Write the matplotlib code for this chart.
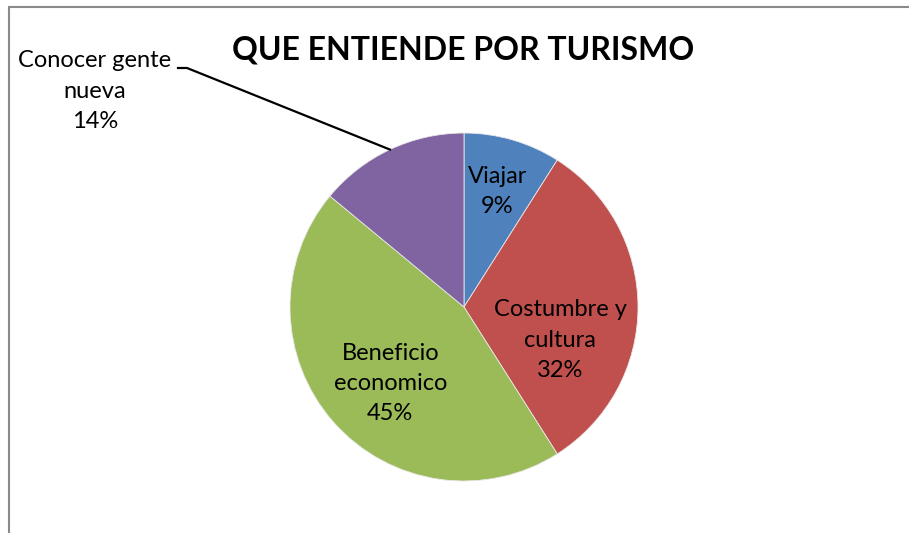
import matplotlib
matplotlib.use("Agg")
import matplotlib.pyplot as plt
import numpy as np
from matplotlib.patches import Rectangle

W, H = 909, 533

categorias = ["Viajar", "Costumbre y\ncultura", "Beneficio\neconomico", "Conocer gente\nnueva"]
porcentajes = [9, 32, 45, 14]
colores = ["#4F81BD", "#C0504D", "#9BBB59", "#8064A2"]
titulo = "QUE ENTIENDE POR TURISMO"

plt.rcParams['font.family'] = ['Lato', 'DejaVu Sans']

fig = plt.figure(figsize=(W / 100, H / 100), dpi=100)
ax = fig.add_axes([0, 0, 1, 1])

# marco del grafico
ax.add_patch(Rectangle((9, -20), W + 20, H - 7 + 20, fill=False,
                       edgecolor="#8a8a8a", lw=1.5, clip_on=False))

cx, cy, r = 464, H - 307, 174
wedges, _ = ax.pie(porcentajes, colors=colores, startangle=90, counterclock=False,
                   center=(cx, cy), radius=r, frame=True,
                   wedgeprops=dict(edgecolor="#e8e8e8", linewidth=0.6))
ax.set_xlim(0, W)
ax.set_ylim(0, H)
ax.set_aspect('equal')
ax.axis('off')

# etiquetas dentro (distancia y giro por sector, como en el original)
dist = [0.69, 0.585, 0.61, None]
giro = [0, -19, 4.6, 0]
for w, cat, p, d, g in zip(wedges, categorias, porcentajes, dist, giro):
    if d is None:
        continue
    ang = np.deg2rad((w.theta1 + w.theta2) / 2 + g)
    ax.text(cx + d * r * np.cos(ang), cy + d * r * np.sin(ang), f"{cat}\n{p}%",
            ha='center', va='center', fontsize=17, linespacing=1.55)

# etiqueta externa con linea guia
w = wedges[3]
ang = np.deg2rad((w.theta1 + w.theta2) / 2)
px, py = cx + r * np.cos(ang), cy + r * np.sin(ang)
ax.plot([178, 187, px], [H - 68, H - 68, py], color="black", lw=1.6)
ax.text(95, H - 91, f"{categorias[3]}\n{porcentajes[3]}%", ha='center', va='center',
        fontsize=17, linespacing=1.55)

ax.text(463, H - 50, titulo, ha='center', va='center', fontsize=23, fontweight='bold')

fig.savefig("out.png", dpi=100)
